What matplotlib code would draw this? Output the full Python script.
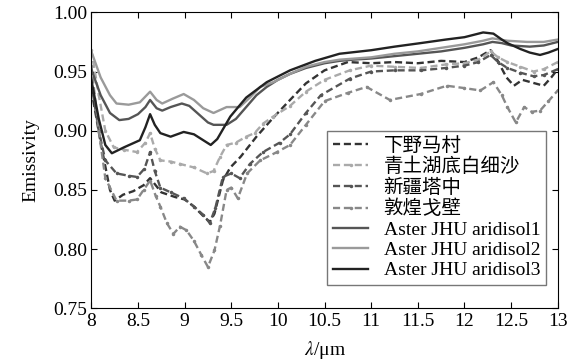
import matplotlib.pyplot as plt

plt.rcParams['font.family'] = ['Liberation Serif', 'Noto Sans CJK SC']
plt.rcParams['mathtext.fontset'] = 'stix'

# 下野马村
x1 = [8.0, 8.1, 8.2, 8.25, 8.34, 8.45, 8.56, 8.63, 8.75, 8.9, 9.0, 9.1, 9.2, 9.27, 9.32, 9.41,
      9.49, 9.6, 9.77, 9.95, 10.13, 10.3, 10.5, 10.75, 11.0, 11.25, 11.5, 11.75, 12.0, 12.15,
      12.28, 12.35, 12.45, 12.53, 12.62, 12.71, 12.85, 12.93, 13.0]
y1 = [0.935, 0.89, 0.85, 0.841, 0.846, 0.849, 0.854, 0.86, 0.848, 0.844, 0.842, 0.836, 0.828,
      0.823, 0.83, 0.858, 0.869, 0.878, 0.895, 0.911, 0.926, 0.940, 0.951, 0.958, 0.957, 0.958,
      0.957, 0.959, 0.958, 0.962, 0.968, 0.960, 0.945, 0.938, 0.943, 0.941, 0.938, 0.945, 0.952]

# 青土湖底白细沙
x2 = [8.0, 8.08, 8.15, 8.24, 8.35, 8.49, 8.58, 8.63, 8.68, 8.74, 8.85, 8.95, 9.1, 9.24, 9.31,
      9.38, 9.45, 9.55, 9.66, 9.75, 9.84, 9.95, 10.13, 10.3, 10.5, 10.77, 11.0, 11.25, 11.53,
      11.8, 12.0, 12.15, 12.28, 12.36, 12.46, 12.6, 12.74, 12.85, 13.0]
y2 = [0.968, 0.93, 0.90, 0.886, 0.884, 0.882, 0.89, 0.898, 0.885, 0.875, 0.874, 0.872, 0.869,
      0.864, 0.866, 0.878, 0.888, 0.89, 0.895, 0.898, 0.906, 0.912, 0.921, 0.933, 0.943, 0.951,
      0.955, 0.954, 0.953, 0.956, 0.957, 0.96, 0.967, 0.962, 0.958, 0.954, 0.95, 0.952, 0.958]

# 新疆塔中
x3 = [8.0, 8.08, 8.15, 8.27, 8.4, 8.49, 8.57, 8.63, 8.68, 8.74, 8.85, 8.99, 9.1, 9.2, 9.27,
      9.33, 9.41, 9.5, 9.59, 9.7, 9.84, 10.02, 10.13, 10.3, 10.46, 10.77, 11.0, 11.25, 11.53,
      11.8, 12.0, 12.15, 12.28, 12.36, 12.46, 12.6, 12.74, 12.85, 13.0]
y3 = [0.94, 0.90, 0.875, 0.864, 0.862, 0.861, 0.868, 0.882, 0.866, 0.852, 0.848, 0.843, 0.836,
      0.829, 0.822, 0.835, 0.861, 0.864, 0.86, 0.872, 0.882, 0.89, 0.897, 0.915, 0.93, 0.944,
      0.95, 0.951, 0.951, 0.953, 0.955, 0.958, 0.964, 0.958, 0.953, 0.949, 0.946, 0.947, 0.952]

# 敦煌戈壁
x4 = [8.0, 8.08, 8.15, 8.27, 8.4, 8.49, 8.56, 8.63, 8.69, 8.74, 8.81, 8.88, 8.95, 9.02, 9.1,
      9.18, 9.25, 9.32, 9.38, 9.45, 9.5, 9.57, 9.67, 9.81, 9.99, 10.13, 10.3, 10.5, 10.75,
      10.95, 11.2, 11.53, 11.81, 12.0, 12.17, 12.31, 12.4, 12.46, 12.55, 12.64, 12.72, 12.81,
      12.9, 13.0]
y4 = [0.955, 0.90, 0.86, 0.841, 0.841, 0.842, 0.85, 0.858, 0.845, 0.836, 0.822, 0.813, 0.819,
      0.816, 0.807, 0.795, 0.785, 0.799, 0.82, 0.85, 0.852, 0.843, 0.864, 0.875, 0.882, 0.888,
      0.905, 0.925, 0.932, 0.937, 0.926, 0.931, 0.938, 0.936, 0.934, 0.941, 0.93, 0.92, 0.907,
      0.92, 0.916, 0.917, 0.925, 0.934]

# Aster JHU aridisol1
x5 = [8.0, 8.1, 8.2, 8.3, 8.4, 8.5, 8.58, 8.63, 8.7, 8.76, 8.85, 8.97, 9.05, 9.15, 9.25, 9.31,
      9.45, 9.55, 9.66, 9.77, 9.88, 10.0, 10.13, 10.3, 10.5, 10.66, 10.8, 11.0, 11.25, 11.5,
      11.75, 12.0, 12.2, 12.3, 12.4, 12.5, 12.7, 12.85, 13.0]
y5 = [0.952, 0.93, 0.915, 0.909, 0.91, 0.914, 0.92, 0.926, 0.919, 0.917, 0.92, 0.923, 0.921,
      0.914, 0.907, 0.905, 0.905, 0.91, 0.92, 0.93, 0.937, 0.943, 0.948, 0.953, 0.957, 0.959,
      0.96, 0.961, 0.963, 0.965, 0.967, 0.97, 0.973, 0.975, 0.974, 0.972, 0.971, 0.972, 0.975]

# Aster JHU aridisol2
x6 = [8.0, 8.1, 8.2, 8.27, 8.4, 8.52, 8.63, 8.7, 8.76, 8.87, 8.99, 9.1, 9.2, 9.31, 9.45, 9.59,
      9.7, 9.81, 9.95, 10.13, 10.3, 10.5, 10.66, 11.0, 11.25, 11.5, 11.75, 12.0, 12.2, 12.3,
      12.46, 12.67, 12.85, 13.0]
y6 = [0.967, 0.945, 0.93, 0.923, 0.922, 0.924, 0.933, 0.926, 0.923, 0.927, 0.931, 0.926, 0.919,
      0.915, 0.92, 0.92, 0.928, 0.937, 0.941, 0.948, 0.954, 0.958, 0.96, 0.962, 0.965, 0.967,
      0.97, 0.973, 0.976, 0.978, 0.976, 0.975, 0.975, 0.977]

# Aster JHU aridisol3
x7 = [8.0, 8.08, 8.15, 8.22, 8.35, 8.52, 8.58, 8.63, 8.68, 8.74, 8.85, 8.99, 9.1, 9.2, 9.28,
      9.35, 9.49, 9.66, 9.88, 10.13, 10.4, 10.66, 11.0, 11.25, 11.53, 11.8, 12.0, 12.2, 12.31,
      12.4, 12.46, 12.6, 12.7, 12.81, 12.9, 13.0]
y7 = [0.943, 0.91, 0.888, 0.881, 0.886, 0.892, 0.903, 0.914, 0.905, 0.898, 0.895, 0.899, 0.897,
      0.892, 0.888, 0.893, 0.912, 0.928, 0.941, 0.951, 0.959, 0.965, 0.968, 0.971, 0.974, 0.977,
      0.979, 0.983, 0.982, 0.977, 0.974, 0.969, 0.966, 0.964, 0.966, 0.969]

fig = plt.figure(figsize=(5.78, 3.62), dpi=100)
ax = fig.add_axes([0.158, 0.148, 0.807, 0.818])

lw = 1.7
dash = (3, 1.6)
ax.plot(x1, y1, '--', dashes=dash, color='#333333', lw=lw, label='下野马村')
ax.plot(x2, y2, '--', dashes=dash, color='#aaaaaa', lw=lw, marker='.', ms=3, label='青土湖底白细沙')
ax.plot(x3, y3, '--', dashes=dash, color='#555555', lw=lw, marker='.', ms=3, label='新疆塔中')
ax.plot(x4, y4, '--', dashes=dash, color='#888888', lw=lw, marker='.', ms=3, label='敦煌戈壁')
ax.plot(x5, y5, '-', color='#555555', lw=lw, label='Aster JHU aridisol1')
ax.plot(x6, y6, '-', color='#9a9a9a', lw=lw, label='Aster JHU aridisol2')
ax.plot(x7, y7, '-', color='#222222', lw=lw, label='Aster JHU aridisol3')

ax.set_xlim(8, 13)
ax.set_ylim(0.75, 1.0)
ax.set_xticks([8, 8.5, 9, 9.5, 10, 10.5, 11, 11.5, 12, 12.5, 13])
ax.set_xticklabels(['8', '8.5', '9', '9.5', '10', '10.5', '11', '11.5', '12', '12.5', '13'])
ax.set_yticks([0.75, 0.8, 0.85, 0.9, 0.95, 1.0])
ax.set_yticklabels(['0.75', '0.80', '0.85', '0.90', '0.95', '1.00'])
ax.tick_params(direction='in', top=True, right=True, length=4, labelsize=14, pad=3)

ax.set_xlabel('$\\lambda$/μm', fontsize=14, labelpad=7)
ax.set_ylabel('Emissivity', fontsize=14, labelpad=10)

leg = ax.legend(loc='lower right', bbox_to_anchor=(0.975, 0.078), borderaxespad=0,
                fontsize=14, handlelength=1.8, fancybox=False, framealpha=1,
                labelspacing=0.14, borderpad=0.3, handletextpad=0.8)
leg.get_frame().set_edgecolor('#777777')

fig.savefig('out.png', dpi=100)
